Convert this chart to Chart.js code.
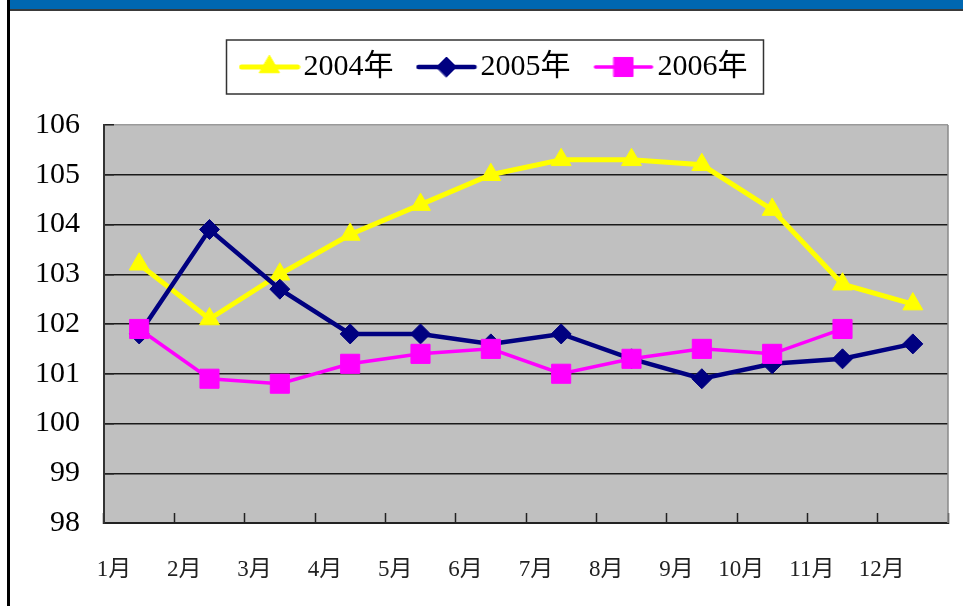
<!DOCTYPE html>
<html>
<head>
<meta charset="utf-8">
<script src="https://cdn.jsdelivr.net/npm/chart.js@4/dist/chart.umd.min.js"></script>
<style>
  html, body { margin: 0; padding: 0; background: #fff; }
  #wrap { position: relative; width: 963px; height: 606px; overflow: hidden; }
  .band { position: absolute; left: 10px; top: 0; width: 953px; height: 9px; background: #0067b1; }
  .bandLine { position: absolute; left: 10px; top: 9px; width: 953px; height: 2px; background: #3a3a3a; }
  .leftBar { position: absolute; left: 7px; top: 0; width: 3px; height: 606px; background: #000; }
  canvas { position: absolute; left: 0; top: 0; }
</style>
</head>
<body>
<div id="wrap">
  <div class="band"></div>
  <div class="bandLine"></div>
  <div class="leftBar"></div>
  <canvas id="chart" width="963" height="606"></canvas>
</div>
<script>
// ── Data ──
const months = ['1月', '2月', '3月', '4月', '5月', '6月', '7月', '8月', '9月', '10月', '11月', '12月'];
const seriesNames = ['2004年', '2005年', '2006年'];
const y2004 = [103.2, 102.1, 103.0, 103.8, 104.4, 105.0, 105.3, 105.3, 105.2, 104.3, 102.8, 102.4];
const y2005 = [101.8, 103.9, 102.7, 101.8, 101.8, 101.6, 101.8, 101.3, 100.9, 101.2, 101.3, 101.6];
const y2006 = [101.9, 100.9, 100.8, 101.2, 101.4, 101.5, 101.0, 101.3, 101.5, 101.4, 101.9, null];
const yMin = 98, yMax = 106;

const FONT = "'Liberation Serif', 'Noto Sans CJK SC', serif";

const styles = [
    { color: '#ffff00', width: 5, point: 'triangle', r: 11.5 },
    { color: '#000080', width: 4.5, point: 'rectRot', r: 10 },
    { color: '#ff00ff', width: 3.5, point: 'rect', r: 13.5 },
];

// legend symbol: short line with the marker in the middle
function legendSymbol(s) {
    const c = document.createElement('canvas');
    c.width = 62; c.height = 28;
    const g = c.getContext('2d');
    g.strokeStyle = s.color; g.lineWidth = s.width; g.lineCap = 'round';
    g.beginPath(); g.moveTo(3, 14); g.lineTo(59, 14); g.stroke();
    g.fillStyle = s.color; g.lineWidth = 1;
    Chart.helpers.drawPoint(g, { pointStyle: s.point, radius: s.r, rotation: 0, borderWidth: 1 }, 31, 14);
    return c;
}
const symbols = styles.map(legendSymbol);

const plotFrame = {
    id: 'plotFrame',
    afterLayout(chart) {
        // legend sits a little right of the canvas centre in the original
        if (chart.legend) { chart.legend.left += 10; chart.legend.right += 10; }
    },
    beforeDraw(chart) {
        const a = chart.chartArea, ctx = chart.ctx;
        ctx.save();
        ctx.fillStyle = '#c0c0c0';
        ctx.fillRect(a.left, a.top, a.right - a.left, a.bottom - a.top);
        ctx.restore();
    },
    beforeDatasetsDraw(chart) {
        const a = chart.chartArea, ctx = chart.ctx;
        ctx.save();
        ctx.strokeStyle = '#8a8a8a'; ctx.lineWidth = 1.5;
        ctx.beginPath(); ctx.moveTo(a.right, a.top); ctx.lineTo(a.right, a.bottom); ctx.stroke();
        ctx.restore();
    },
    afterDraw(chart) {
        const hb = chart.legend && chart.legend.legendHitBoxes;
        if (!hb || !hb.length) return;
        const first = hb[0], last = hb[hb.length - 1];
        const cy = first.top + 15;
        const ctx = chart.ctx;
        ctx.save();
        ctx.strokeStyle = '#333'; ctx.lineWidth = 1.5;
        ctx.strokeRect(first.left - 24, cy - 27, last.left + last.width + 16 - (first.left - 24), 54);
        ctx.restore();
    }
};

const datasets = [y2004, y2005, y2006].map((d, i) => ({
    label: seriesNames[i],
    data: d,
    borderColor: styles[i].color,
    backgroundColor: styles[i].color,
    borderWidth: styles[i].width,
    pointStyle: styles[i].point,
    pointRadius: styles[i].r,
    pointHoverRadius: styles[i].r,
    pointBorderWidth: 1,
    pointBackgroundColor: styles[i].color,
    pointBorderColor: styles[i].color,
    tension: 0,
    spanGaps: false,
    order: 2 - i,
}));

new Chart(document.getElementById('chart'), {
    type: 'line',
    data: { labels: months, datasets },
    options: {
        responsive: false,
        animation: false,
        events: [],
        layout: { padding: { left: 30, right: 15, top: 18, bottom: 0 } },
        scales: {
            x: {
                type: 'category',
                offset: true,
                grid: { offset: true, drawOnChartArea: false, drawTicks: true, tickLength: -10, tickColor: '#222', tickWidth: 1.5 },
                border: { color: '#222', width: 2 },
                ticks: { font: { family: FONT, size: 23 }, color: '#222', align: 'end', labelOffset: -8, padding: 43, maxRotation: 0, autoSkip: false },
                afterFit: s => { s.height = 83; }
            },
            y: {
                min: yMin, max: yMax,
                grid: {
                    color: ctx => ctx.tick && ctx.tick.value === yMax ? '#9a9a9a' : '#1a1a1a',
                    lineWidth: 1.5, tickLength: -10, tickColor: '#222', tickWidth: 1.5
                },
                border: { color: '#333', width: 2 },
                ticks: { stepSize: 1, font: { family: FONT, size: 30 }, color: '#000', padding: 34 },
                afterFit: s => { s.width = 74; }
            }
        },
        plugins: {
            title: { display: true, text: '', weight: 500, font: { size: 10, lineHeight: 1 }, padding: { top: 0, bottom: 23 } },
            legend: {
                position: 'top',
                labels: {
                    usePointStyle: true,
                    pointStyleWidth: 38,
                    padding: 34,
                    color: '#000',
                    font: { family: FONT, size: 30 },
                    generateLabels: chart => chart.data.datasets.map((ds, i) => ({
                        text: ds.label, pointStyle: symbols[i], fillStyle: ds.borderColor,
                        strokeStyle: ds.borderColor, lineWidth: 0, hidden: false, datasetIndex: i
                    }))
                }
            },
            tooltip: { enabled: false }
        }
    },
    plugins: [plotFrame]
});
</script>
</body>
</html>
